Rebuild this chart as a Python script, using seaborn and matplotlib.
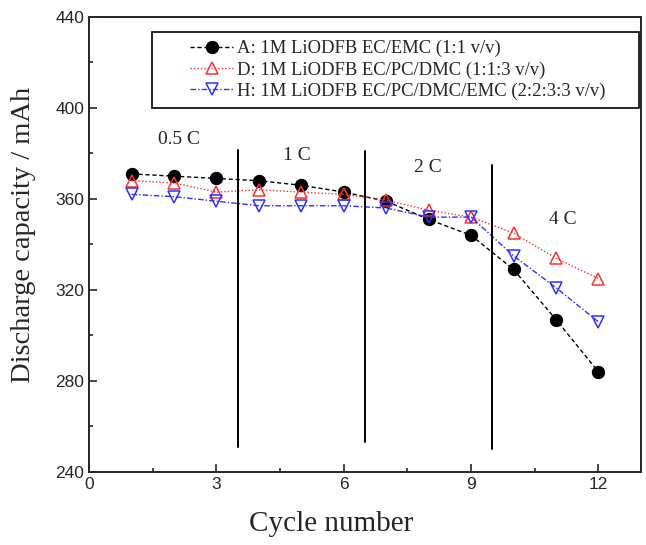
import matplotlib
matplotlib.use("Agg")
import matplotlib.pyplot as plt
import seaborn as sns
import pandas as pd
from matplotlib.ticker import MultipleLocator
from matplotlib.patches import Rectangle

cycles = [1, 2, 3, 4, 5, 6, 7, 8, 9, 10, 11, 12]
cap_A = [371, 370, 369, 368, 366, 363, 359, 351, 344, 329, 307, 284]
cap_D = [368, 367, 363, 364, 363, 362, 359.5, 355, 352, 345, 334, 325]
cap_H = [362, 361, 359, 357, 357, 357, 356, 352, 352, 335, 321, 306]
labels = ["A: 1M LiODFB EC/EMC (1:1 v/v)",
          "D: 1M LiODFB EC/PC/DMC (1:1:3 v/v)",
          "H: 1M LiODFB EC/PC/DMC/EMC (2:2:3:3 v/v)"]
rate_labels = ["0.5 C", "1 C", "2 C", "4 C"]
rate_pos_x = [2.12, 4.9, 7.98, 11.15]
rate_pos_y = [386, 379.3, 373.6, 350.8]
div_x = [3.5, 6.5, 9.5]
div_top = [381.5, 381, 375]
div_bot = [251, 253, 250]

sns.set_style("ticks")
plt.rcParams['font.family'] = ['Liberation Serif', 'DejaVu Serif']

fig = plt.figure(figsize=(6.46, 5.45), dpi=100)
ax = fig.add_axes([0.138, 0.134, 0.854, 0.835])

styles = [
    dict(color="black", ls=(0, (3, 2)), marker="o", mfc="black", mec="black"),
    dict(color="#ff3030", ls=(0, (1, 1.5)), marker="^", mfc="none", mec="#ff3030"),
    dict(color="#3030ff", ls=(0, (4, 1.5, 1, 1.5)), marker="v", mfc="none", mec="#3030ff"),
]
for vals, lab, st in zip([cap_A, cap_D, cap_H], labels, styles):
    df = pd.DataFrame({"cycle": cycles, "cap": vals})
    sns.lineplot(data=df, x="cycle", y="cap", ax=ax, color=st["color"],
                 linestyle=st["ls"], marker=st["marker"], markersize=8.5,
                 markerfacecolor=st["mfc"], markeredgecolor=st["mec"],
                 markeredgewidth=1.1, linewidth=1.0, label=lab)

for x, t, b in zip(div_x, div_top, div_bot):
    ax.plot([x, x], [b, t], color="black", lw=1.4)

for t, x, y in zip(rate_labels, rate_pos_x, rate_pos_y):
    ax.text(x, y, t, ha="center", va="center", fontsize=14)

ax.set_xlim(0, 13)
ax.set_ylim(240, 440)
ax.xaxis.set_major_locator(MultipleLocator(3))
ax.xaxis.set_minor_locator(MultipleLocator(1.5))
ax.yaxis.set_major_locator(MultipleLocator(40))
ax.yaxis.set_minor_locator(MultipleLocator(20))
ax.tick_params(which="both", direction="in", top=False, right=False, width=1.2)
ax.tick_params(which="major", length=6)
ax.tick_params(which="minor", length=3)
for lab in ax.get_xticklabels() + ax.get_yticklabels():
    lab.set_fontfamily("Liberation Sans")
    lab.set_fontsize(12.5)
for sp in ax.spines.values():
    sp.set_linewidth(1.4)
    sp.set_visible(True)

ax.set_xlabel("Cycle number", fontsize=21)
ax.set_ylabel("Discharge capacity / mAh", fontsize=20.5)
ax.xaxis.set_label_coords(0.438, -0.085)
ax.yaxis.set_label_coords(-0.097, 0.52)

# legend frame (Origin-style wide box)
ax.add_patch(Rectangle((0.114, 0.80), 0.882, 0.167, transform=ax.transAxes,
                       fill=True, facecolor="white", edgecolor="black",
                       linewidth=1.2, zorder=4))
leg = ax.legend(loc="center left", bbox_to_anchor=(0.183, 0.8835),
                fontsize=13.4, frameon=False, handlelength=2.3,
                handletextpad=0.2, borderpad=0, borderaxespad=0,
                labelspacing=0.22)
leg.set_zorder(5)

fig.savefig("out.png", dpi=100)
